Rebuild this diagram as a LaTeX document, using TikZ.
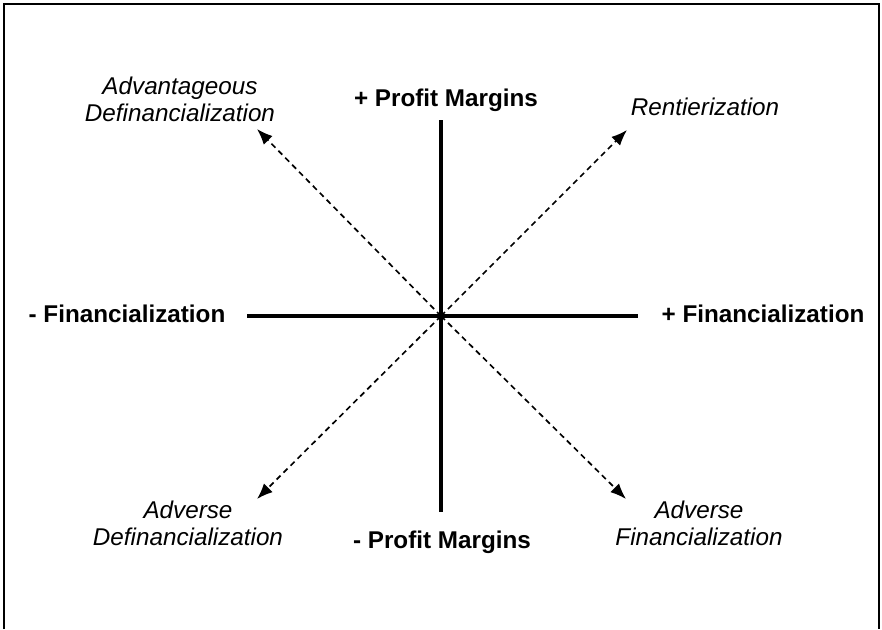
\documentclass[tikz,border=0pt]{standalone}
\usepackage{fontspec}
\setmainfont{Liberation Sans}
\usetikzlibrary{arrows.meta}
\colorlet{axisfg}{black}

\begin{document}
\begin{tikzpicture}[x=0.02cm,y=-0.02cm,
    axis/.style={line width=2.1pt,draw=axisfg},
    trend/.style={dash pattern=on 3.2pt off 2.4pt,line width=0.95pt,
      -{Latex[length=9pt,width=7pt]}},
    pole/.style={font=\fontsize{13.8}{16}\selectfont\bfseries,inner sep=0pt},
    regime/.style={font=\fontsize{13.8}{15.5}\selectfont\itshape,
      align=center,inner sep=0pt}]
    \useasboundingbox (0,0) rectangle (882,629);
    % Frame
    \draw[line width=1.2pt] (4,629) -- (4,4) -- (879,4) -- (879,629);
    % Axes
    \coordinate (o) at (441,316);
    \coordinate (top) at (441,120);
    \coordinate (bot) at (441,512);
    \coordinate (lft) at (247,316);
    \coordinate (rgt) at (638,316);
    \draw[axis] (top) -- (bot);
    \draw[axis] (lft) -- (rgt);
    \node[pole] (pplus) at (446,100) {+ Profit Margins};
    \node[pole] (pminus) at (442,542) {- Profit Margins};
    \node[pole] (fminus) at (127,314) {- Financialization};
    \node[pole] (fplus) at (763,314) {+ Financialization};
    % Diagonals
    \coordinate (nw) at (257,129);
    \coordinate (ne) at (627,130);
    \coordinate (sw) at (257,499);
    \coordinate (se) at (626,499);
    \draw[trend] (o) -- (nw);
    \draw[trend] (o) -- (ne);
    \draw[trend] (o) -- (sw);
    \draw[trend] (o) -- (se);
    \node[regime] (adv) at (180,99) {Advantageous\\Definancialization};
    \node[regime] (rent) at (705,107) {Rentierization};
    \node[regime] (advdef) at (188,523) {Adverse\\Definancialization};
    \node[regime] (advfin) at (699,523) {Adverse\\Financialization};
\end{tikzpicture}
\end{document}
